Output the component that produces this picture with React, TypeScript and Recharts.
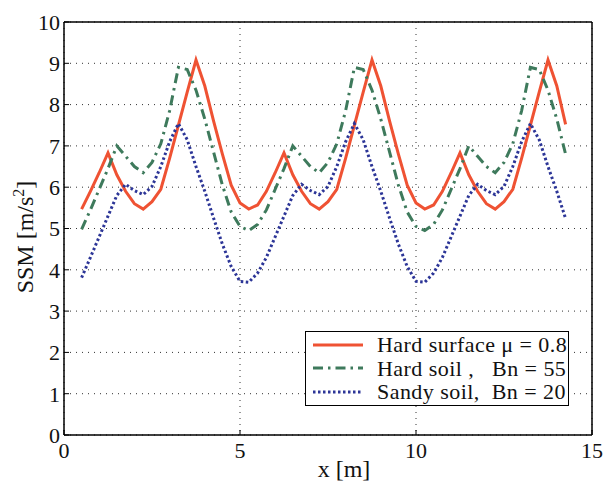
import React from 'react';
import {
  LineChart,
  Line,
  XAxis,
  YAxis,
  CartesianGrid,
  Legend,
  ReferenceLine,
  Label,
} from 'recharts';

const xs = [
  0.5, 0.75, 1, 1.25, 1.5, 1.75, 2, 2.25, 2.5, 2.75, 3, 3.25, 3.5, 3.75, 4, 4.25, 4.5, 4.75, 5, 5.25,
  5.5, 5.75, 6, 6.25, 6.5, 6.75, 7, 7.25, 7.5, 7.75, 8, 8.25, 8.5, 8.75, 9, 9.25, 9.5, 9.75, 10, 10.25,
  10.5, 10.75, 11, 11.25, 11.5, 11.75, 12, 12.25, 12.5, 12.75, 13, 13.25, 13.5, 13.75, 14, 14.25,
];

const hardSurface = [
  5.47, 5.9, 6.35, 6.83, 6.3, 5.9, 5.6, 5.47, 5.65, 5.95, 6.7, 7.5, 8.3, 9.08, 8.45, 7.6, 6.8, 6.05, 5.62, 5.47,
  5.57, 5.9, 6.35, 6.83, 6.3, 5.9, 5.6, 5.47, 5.65, 5.95, 6.7, 7.5, 8.3, 9.08, 8.45, 7.6, 6.8, 6.05, 5.62, 5.47,
  5.57, 5.9, 6.35, 6.83, 6.3, 5.9, 5.6, 5.47, 5.65, 5.95, 6.7, 7.5, 8.3, 9.08, 8.45, 7.52,
];

const hardSoil = [
  4.98, 5.45, 5.95, 6.45, 7.0, 6.75, 6.5, 6.35, 6.6, 7.05, 7.85, 8.9, 8.85, 8.35, 7.65, 6.85, 6.05, 5.4, 5.05, 4.95,
  5.1, 5.45, 5.95, 6.45, 7.0, 6.75, 6.5, 6.35, 6.6, 7.05, 7.85, 8.9, 8.85, 8.35, 7.65, 6.85, 6.05, 5.4, 5.05, 4.95,
  5.1, 5.45, 5.95, 6.45, 7.0, 6.75, 6.5, 6.35, 6.6, 7.05, 7.85, 8.9, 8.85, 8.35, 7.65, 6.8,
];

const sandySoil = [
  3.81, 4.3, 4.8, 5.3, 5.8, 6.07, 5.92, 5.82, 6.02, 6.5, 7.1, 7.54, 7.15, 6.5, 5.9, 5.25, 4.62, 4.08, 3.72, 3.7,
  3.92, 4.3, 4.8, 5.3, 5.8, 6.07, 5.92, 5.82, 6.02, 6.5, 7.1, 7.54, 7.15, 6.5, 5.9, 5.25, 4.62, 4.08, 3.72, 3.7,
  3.92, 4.3, 4.8, 5.3, 5.8, 6.07, 5.92, 5.82, 6.02, 6.5, 7.1, 7.54, 7.15, 6.5, 5.9, 5.24,
];

const xTicks = [0, 5, 10, 15];
const yTicks = [0, 1, 2, 3, 4, 5, 6, 7, 8, 9, 10];

const RED = '#ef5233';
const GREEN = '#3e7a5c';
const BLUE = '#2c3597';
const FONT = '"Liberation Serif", "DejaVu Serif", serif';
const TICK_LEN = 5;

const series = [
  { key: 'hard', label: 'Hard surface \u03bc = 0.8', color: RED, dash: undefined, width: 3 },
  { key: 'soil', label: 'Hard soil ,   Bn = 55', color: GREEN, dash: '10 5 2.5 5', width: 3 },
  { key: 'sandy', label: 'Sandy soil,  Bn = 20', color: BLUE, dash: '2.5 2.5', width: 3 },
];

const data = xs.map((x, i) => ({
  x,
  hard: hardSurface[i],
  soil: hardSoil[i],
  sandy: sandySoil[i],
}));

// labels + inward tick marks (matlab style)
const LeftTick = (props: any) => {
  const { x, y, payload } = props;
  const ax = x + 4;
  return (
    <g>
      <line x1={ax} y1={y} x2={ax + TICK_LEN} y2={y} stroke="#000" />
      <text x={x} y={y} dy="0.355em" textAnchor="end" fontSize={22} fontFamily={FONT} fill="#111">
        {payload.value}
      </text>
    </g>
  );
};

const BottomTick = (props: any) => {
  const { x, y, payload } = props;
  const ay = y - 7;
  return (
    <g>
      <line x1={x} y1={ay} x2={x} y2={ay - TICK_LEN} stroke="#000" />
      <text x={x} y={y} dy="0.71em" textAnchor="middle" fontSize={22} fontFamily={FONT} fill="#111">
        {payload.value}
      </text>
    </g>
  );
};

const RightTick = (props: any) => {
  const { x, y } = props;
  return <line x1={x} y1={y} x2={x - TICK_LEN} y2={y} stroke="#000" />;
};

const TopTick = (props: any) => {
  const { x, y } = props;
  return <line x1={x} y1={y} x2={x} y2={y + TICK_LEN} stroke="#000" />;
};

function LegendBox() {
  return (
    <div
      style={{
        border: '1.5px solid #000',
        background: '#fff',
        padding: '1px 0 1px 7px',
        fontFamily: FONT,
        fontSize: 22,
        lineHeight: '23.5px',
        color: '#111',
      }}
    >
      {series.map((s) => (
        <div
          key={s.key}
          style={{ display: 'flex', alignItems: 'center', whiteSpace: 'pre', height: 23.5 }}
        >
          <svg width={50} height={10} style={{ marginRight: 14 }}>
            <line
              x1={0}
              y1={5}
              x2={50}
              y2={5}
              stroke={s.color}
              strokeWidth={s.width}
              strokeDasharray={s.dash}
            />
          </svg>
          <span style={{ letterSpacing: 0.45 }}>{s.label}</span>
        </div>
      ))}
    </div>
  );
}

export default function App() {
  return (
    <div style={{ position: 'absolute', left: 0, top: 0, background: '#fff' }}>
      <LineChart
        width={607}
        height={481}
        data={data}
        margin={{ top: 22, right: 15, bottom: 0, left: 4 }}
      >
        <CartesianGrid stroke="#333" strokeDasharray="1 5" strokeWidth={1} />
        <XAxis
          dataKey="x"
          type="number"
          domain={[0, 15]}
          ticks={xTicks}
          height={46}
          tickLine={false}
          tickSize={5}
          tickMargin={2}
          axisLine={{ stroke: '#000', strokeWidth: 1.5 }}
          tick={<BottomTick />}
        >
          <Label
            content={() => (
              <text x={344} y={477} textAnchor="middle" fontSize={24} fontFamily={FONT} fill="#111">
                x [m]
              </text>
            )}
          />
        </XAxis>
        <XAxis
          xAxisId="top"
          dataKey="x"
          type="number"
          orientation="top"
          domain={[0, 15]}
          ticks={xTicks}
          height={0}
          tickLine={false}
          tickSize={0}
          tickMargin={0}
          axisLine={false}
          tick={<TopTick />}
        />
        <YAxis
          type="number"
          domain={[0, 10]}
          ticks={yTicks}
          width={60}
          tickLine={false}
          tickSize={3}
          tickMargin={1}
          axisLine={{ stroke: '#000', strokeWidth: 1.5 }}
          tick={<LeftTick />}
        >
          <Label
            content={() => (
              <text
                x={33}
                y={237}
                transform="rotate(-90, 33, 237)"
                textAnchor="middle"
                fontSize={24}
                fontFamily={FONT}
                fill="#111"
              >
                SSM [m/s
                <tspan dy={-9} fontSize={16}>2</tspan>
                <tspan dy={9}>]</tspan>
              </text>
            )}
          />
        </YAxis>
        <YAxis
          yAxisId="right"
          type="number"
          orientation="right"
          domain={[0, 10]}
          ticks={yTicks}
          width={0}
          tickLine={false}
          tickSize={0}
          tickMargin={0}
          axisLine={false}
          tick={<RightTick />}
        />
        <ReferenceLine y={10} stroke="#000" strokeWidth={1.5} />
        <ReferenceLine x={15} stroke="#000" strokeWidth={1.5} />
        {series.map((s) => (
          <Line
            key={s.key}
            dataKey={s.key}
            name={s.label}
            type="linear"
            stroke={s.color}
            strokeWidth={s.width}
            strokeDasharray={s.dash}
            dot={false}
            isAnimationActive={false}
          />
        ))}
        <Legend
          layout="vertical"
          align="center"
          verticalAlign="middle"
          wrapperStyle={{ left: 305, top: 331, width: 264 }}
          content={() => <LegendBox />}
        />
      </LineChart>
    </div>
  );
}
